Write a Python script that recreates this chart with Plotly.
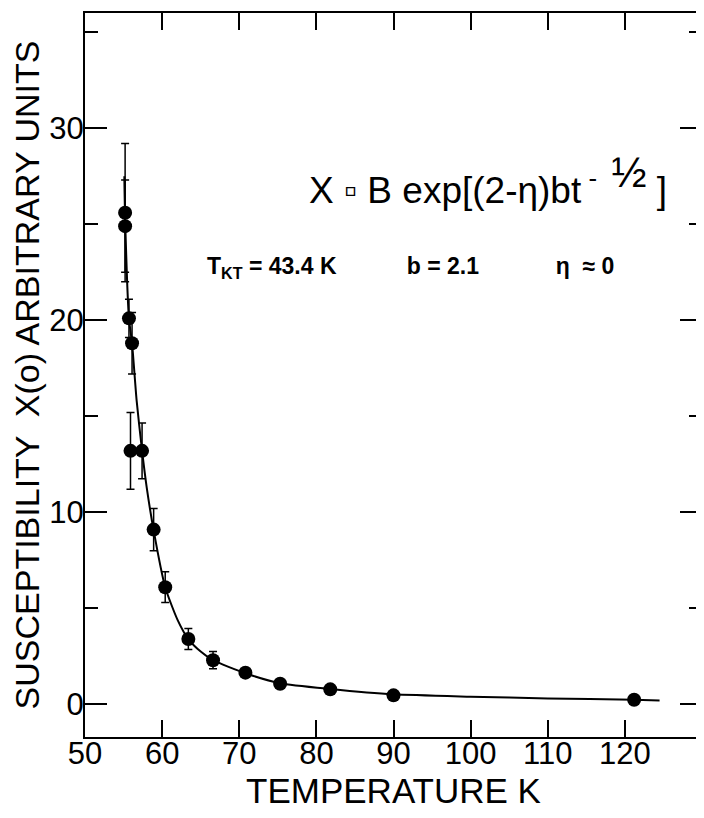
import plotly.graph_objects as go

# Measured data points (temperature K, susceptibility, error)
temp = [55.2, 55.2, 55.7, 56.1, 55.9, 57.4, 58.9, 60.4, 63.4, 66.6, 70.8, 75.3, 81.8, 90.0, 121.2]
chi = [25.6, 24.9, 20.1, 18.8, 13.2, 13.2, 9.1, 6.1, 3.4, 2.3, 1.65, 1.07, 0.78, 0.47, 0.24]
chi_err = [3.6, 2.4, 1.0, 1.6, 2.0, 1.45, 1.1, 0.8, 0.55, 0.45, 0.2, 0, 0, 0, 0]

# Fitted curve
curve_t = [55.1, 55.2, 55.7, 56.1, 56.7, 57.4, 58.0, 58.9, 60.4, 62.0, 63.4, 65.0, 66.6, 70.8, 75.3, 81.8, 90.0, 100.0, 110.0, 121.2, 124.5]
curve_chi = [27.5, 25.3, 20.1, 18.8, 15.8, 13.2, 11.3, 9.06, 6.1, 4.4, 3.4, 2.75, 2.3, 1.62, 1.1, 0.8, 0.52, 0.4, 0.31, 0.24, 0.2]

x_ticks = [50, 60, 70, 80, 90, 100, 110, 120]
y_ticks = [0, 10, 20, 30]

FONT = "Liberation Sans Narrow, Liberation Sans, Arial, sans-serif"

fig = go.Figure()
fig.add_trace(go.Scatter(x=curve_t, y=curve_chi, mode="lines",
                         line=dict(color="black", width=2, shape="spline", smoothing=0.6),
                         hoverinfo="skip", showlegend=False))
fig.add_trace(go.Scatter(x=temp, y=chi, mode="markers",
                         marker=dict(color="black", size=14),
                         error_y=dict(type="data", array=chi_err, color="black", thickness=1.5, width=4),
                         showlegend=False))

fig.add_annotation(x=0.36, y=0.769, xref="paper", yref="paper", xanchor="left", yanchor="middle",
                   text="X ▫ B exp[(2-η)bt<sup> -  <span style='font-size:42px'>½</span></sup> ]", showarrow=False,
                   font=dict(family=FONT, size=37, color="black"))
fig.add_annotation(x=0.1945, y=0.648, xref="paper", yref="paper", xanchor="left", yanchor="middle",
                   text="<b>T<sub>KT</sub> = 43.4 K           b = 2.1            η  ≈ 0</b>", showarrow=False,
                   font=dict(family="Liberation Sans, Arial, sans-serif", size=23, color="black"))

fig.update_layout(
    width=696, height=802,
    margin=dict(l=77, r=2, t=5, b=73),
    paper_bgcolor="white", plot_bgcolor="white",
    font=dict(family=FONT, color="black"),
)
fig.update_xaxes(range=[50, 130], tickvals=x_ticks, ticktext=[str(v) for v in x_ticks],
                 ticks="inside", ticklen=17, tickwidth=2, tickcolor="black",
                 showline=True, linecolor="black", linewidth=2, mirror="ticks",
                 showgrid=False, zeroline=False, automargin=False, ticklabelstandoff=-12,
                 tickfont=dict(family=FONT, size=31, color="black"),
                 title=dict(text="TEMPERATURE K", font=dict(family=FONT, size=35, color="black"), standoff=14))
fig.update_yaxes(range=[-1.7, 36], tickvals=y_ticks, ticktext=[str(v) for v in y_ticks],
                 ticks="inside", ticklen=22, tickwidth=2, tickcolor="black",
                 minor=dict(dtick=5, tick0=0, ticks="inside", ticklen=13, tickwidth=1.5, tickcolor="black"),
                 showline=True, linecolor="black", linewidth=2, mirror="ticks",
                 showgrid=False, zeroline=False, automargin=False, ticklabelstandoff=-7,
                 tickfont=dict(family=FONT, size=31, color="black"),
                 title=dict(text="SUSCEPTIBILITY  X(o) ARBITRARY UNITS", font=dict(family=FONT, size=34, color="black"), standoff=2))

fig.write_html("out.html")
